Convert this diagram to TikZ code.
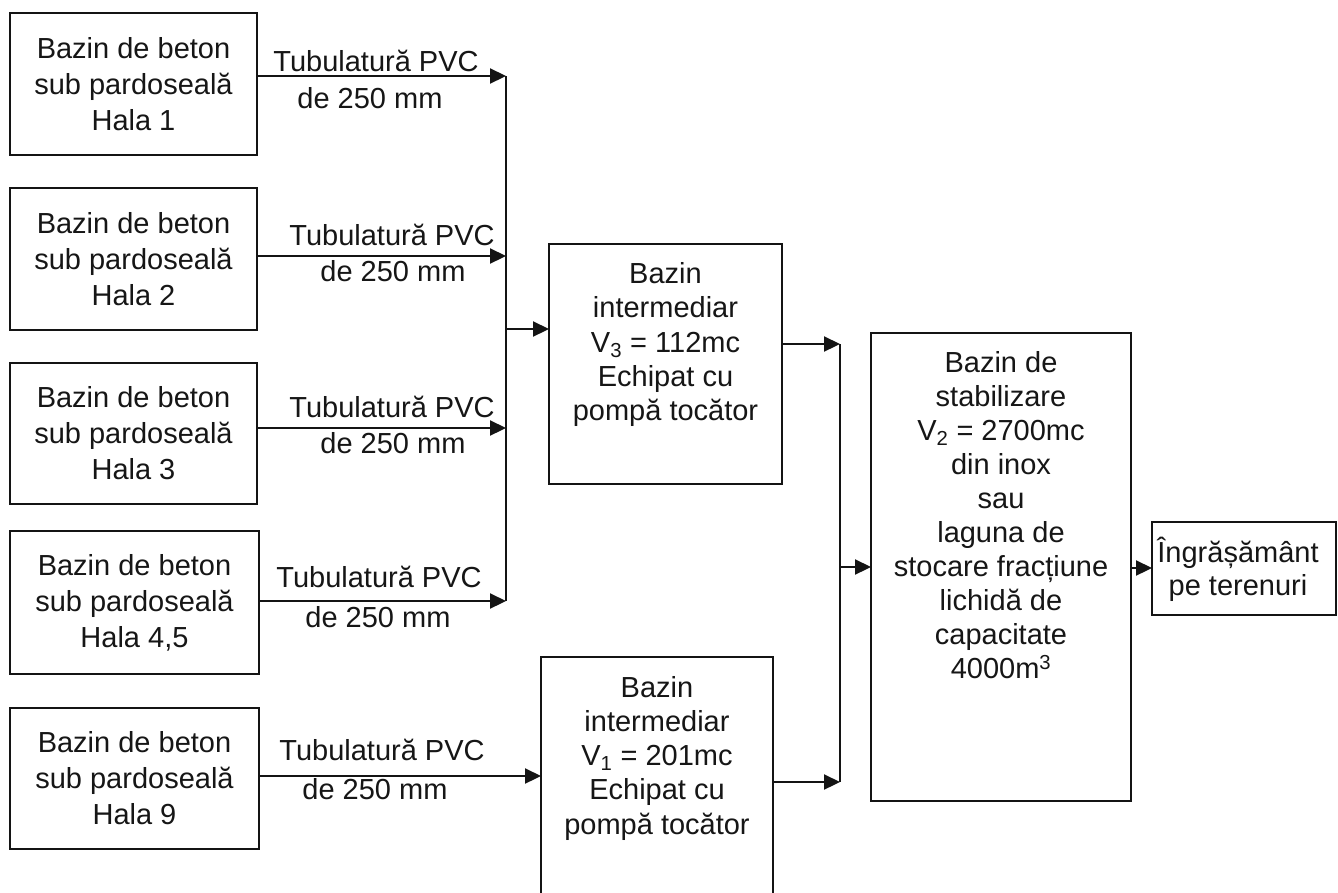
\documentclass[tikz,border=0pt]{standalone}
\usepackage{fontspec}
\setmainfont{Liberation Sans}
\usetikzlibrary{arrows.meta}
\definecolor{linec}{HTML}{141414}
\definecolor{textc}{HTML}{161616}
\begin{document}
\begin{tikzpicture}[x=1pt,y=-1pt,
  box/.style={draw=linec, line width=2.2pt, inner sep=0pt, outer sep=0pt, rectangle},
  txt/.style={font=\fontsize{29}{36}\selectfont, align=center, text=textc, inner sep=0pt},
  txtb/.style={font=\fontsize{29}{34.25}\selectfont, align=center, text=textc, inner sep=0pt},
  lbl/.style={font=\fontsize{29}{34}\selectfont, text=textc, inner sep=0pt, anchor=base},
  arr/.style={draw=linec, line width=2.2pt, -{Triangle[length=16pt,width=15pt]}},
  ln/.style={draw=linec, line width=2.2pt}]
\useasboundingbox[fill=white] (0,0) rectangle (1338,892);

% left boxes
\node[box, minimum width=247pt, minimum height=142pt, txt] (h1) at (133.5,84) {Bazin de beton\\sub pardoseală\\Hala 1};
\node[box, minimum width=247pt, minimum height=142pt, txt] (h2) at (133.5,259) {Bazin de beton\\sub pardoseală\\Hala 2};
\node[box, minimum width=247pt, minimum height=141pt, txt] (h3) at (133.5,433.5) {Bazin de beton\\sub pardoseală\\Hala 3};
\node[box, minimum width=249pt, minimum height=143pt, txt] (h4) at (134.5,602.5) {Bazin de beton\\sub pardoseală\\Hala 4,5};
\node[box, minimum width=249pt, minimum height=141pt, txt] (h5) at (134.5,778.5) {Bazin de beton\\sub pardoseală\\Hala 9};

% intermediate boxes
\node[box, minimum width=233pt, minimum height=240pt] (v3) at (665.5,364) {};
\node[txtb] (v3t) at (665.5,344.5) {Bazin\\intermediar\\V\textsubscript{3} = 112mc\\Echipat cu\\pompă tocător};
\node[box, minimum width=232pt, minimum height=243pt] (v1) at (657,778.5) {};
\node[txtb] (v1t) at (657,758) {Bazin\\intermediar\\V\textsubscript{1} = 201mc\\Echipat cu\\pompă tocător};

% stabilisation box
\node[box, minimum width=260pt, minimum height=468pt] (st) at (1001,567) {};
\node[font=\fontsize{29}{34}\selectfont, align=center, text=textc, inner sep=0pt] (stt) at (1001,515) {Bazin de\\stabilizare\\V\textsubscript{2} = 2700mc\\din inox\\sau\\laguna de\\stocare fracțiune\\lichidă de\\capacitate\\4000m\textsuperscript{3}};

% final box
\node[box, minimum width=184pt, minimum height=93pt] (ing) at (1244,568.5) {};
\node[font=\fontsize{29}{33}\selectfont, align=center, text=textc, inner sep=0pt] (ingt) at (1238,569) {Îngrășământ\\pe terenuri};

% bus junctions
\coordinate (j1) at (506,76);
\coordinate (j2) at (506,256);
\coordinate (j3) at (506,428);
\coordinate (j4) at (506,601);
\coordinate (jv3) at (506,329);
\coordinate (k1) at (840,344);
\coordinate (k2) at (840,782);
\coordinate (kst) at (840,567);

\draw[ln] (j1) -- (j4);
\draw[ln] (k1) -- (k2);

\draw[arr] (h1.east |- j1) -- (j1);
\draw[arr] (h2.east |- j2) -- (j2);
\draw[arr] (h3.east |- j3) -- (j3);
\draw[arr] (h4.east |- j4) -- (j4);
\draw[arr] (jv3) -- (v3.west |- jv3);
\draw[arr] (h5.east |- 0,776) -- (v1.west |- 0,776);
\draw[arr] (v3.east |- k1) -- (k1);
\draw[arr] (v1.east |- k2) -- (k2);
\draw[arr] (kst) -- (st.west |- kst);
\draw[arr] (st.east |- 0,568) -- (ing.west |- 0,568);

% pipe labels
\node[lbl] (t1) at (376,71) {Tubulatură PVC};
\node[lbl] (d1) at (370,108) {de 250 mm};
\node[lbl] (t2) at (392,245) {Tubulatură PVC};
\node[lbl] (d2) at (393,281) {de 250 mm};
\node[lbl] (t3) at (392,417) {Tubulatură PVC};
\node[lbl] (d3) at (393,453) {de 250 mm};
\node[lbl] (t4) at (379,587) {Tubulatură PVC};
\node[lbl] (d4) at (378,627) {de 250 mm};
\node[lbl] (t5) at (382,760) {Tubulatură PVC};
\node[lbl] (d5) at (375,799) {de 250 mm};
\end{tikzpicture}
\end{document}
